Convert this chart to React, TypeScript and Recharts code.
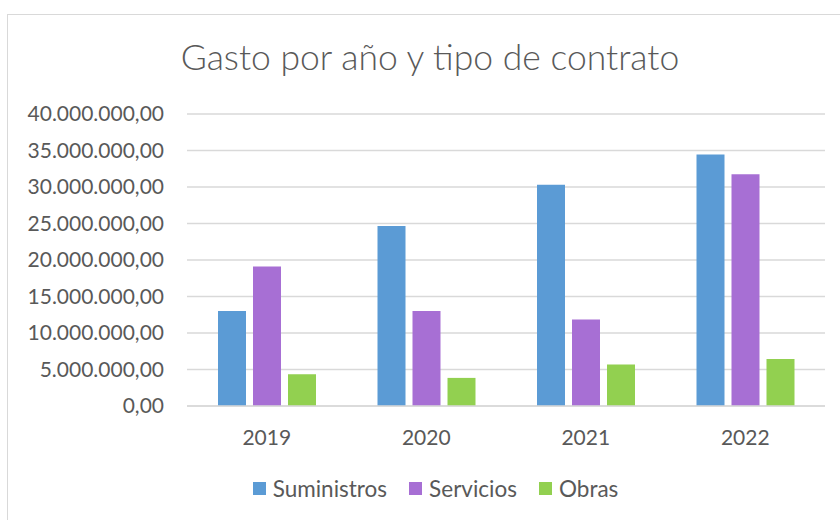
import { Bar, BarChart, CartesianGrid, Legend, XAxis, YAxis } from "recharts";

const years = ["2019", "2020", "2021", "2022"];
const suministros = [13000000, 24650000, 30300000, 34450000];
const servicios = [19100000, 13000000, 11850000, 31750000];
const obras = [4350000, 3850000, 5700000, 6450000];
const yTicks = [0, 5000000, 10000000, 15000000, 20000000, 25000000, 30000000, 35000000, 40000000];

const series = [
    { key: "suministros", name: "Suministros", color: "#5B9BD5" },
    { key: "servicios", name: "Servicios", color: "#A76FD4" },
    { key: "obras", name: "Obras", color: "#92D050" },
];

const data = years.map((year, i) => ({
    year,
    suministros: suministros[i],
    servicios: servicios[i],
    obras: obras[i],
}));

const FONT = "Lato, 'Open Sans', sans-serif";
const TEXT = "#595959";

// formato español: 40.000.000,00
function formatEs(val: number) {
    const [intPart, dec] = val.toFixed(2).split(".");
    const grouped = intPart.replace(/\B(?=(\d{3})+(?!\d))/g, ".");
    return `${grouped},${dec}`;
}

function LegendContent() {
    return (
        <div style={{ display: "flex", justifyContent: "center", gap: 22, fontFamily: FONT, fontSize: 22.5, color: TEXT, paddingLeft: 46 }}>
            {series.map((item) => (
                <div key={item.key} style={{ display: "flex", alignItems: "center" }}>
                    <span style={{ width: 13, height: 13, background: item.color, marginRight: 7, display: "inline-block" }} />
                    <span>{item.name}</span>
                </div>
            ))}
        </div>
    );
}

export default function App() {
    return (
        <div style={{ position: "absolute", left: 0, top: 0, width: 840, height: 520, overflow: "hidden", background: "#fff" }}>
            <div style={{ position: "absolute", left: 7, top: 14, width: 900, height: 600, borderLeft: "1.5px solid #d9d9d9", borderTop: "1.5px solid #d9d9d9" }} />
            <div style={{ position: "absolute", left: 0, top: 35, width: 860, textAlign: "center", fontFamily: FONT, fontWeight: 300, fontSize: 35.5, color: TEXT }}>
                Gasto por año y tipo de contrato
            </div>
            <BarChart
                width={840}
                height={520}
                data={data}
                margin={{ top: 114, right: 15, bottom: 15, left: 0 }}
                barSize={28}
                barGap={7}
                style={{ position: "absolute", left: 0, top: 0 }}
            >
                <CartesianGrid vertical={false} stroke="#d9d9d9" strokeWidth={1.5} />
                <XAxis
                    dataKey="year"
                    axisLine={{ stroke: "#d9d9d9", strokeWidth: 1.5 }}
                    tickLine={false}
                    height={69}
                    tickMargin={18}
                    tick={{ fill: TEXT, fontSize: 21, fontFamily: FONT }}
                />
                <YAxis
                    width={187}
                    domain={[0, 40000000]}
                    ticks={yTicks}
                    axisLine={false}
                    tickLine={false}
                    tickMargin={17}
                    tick={{ fill: TEXT, fontSize: 21, fontFamily: FONT }}
                    tickFormatter={formatEs}
                />
                <Legend verticalAlign="bottom" height={30} content={<LegendContent />} />
                {series.map((s) => (
                    <Bar
                        key={s.key}
                        dataKey={s.key}
                        name={s.name}
                        fill={s.color}
                        isAnimationActive={false}
                    />
                ))}
            </BarChart>
        </div>
    );
}
